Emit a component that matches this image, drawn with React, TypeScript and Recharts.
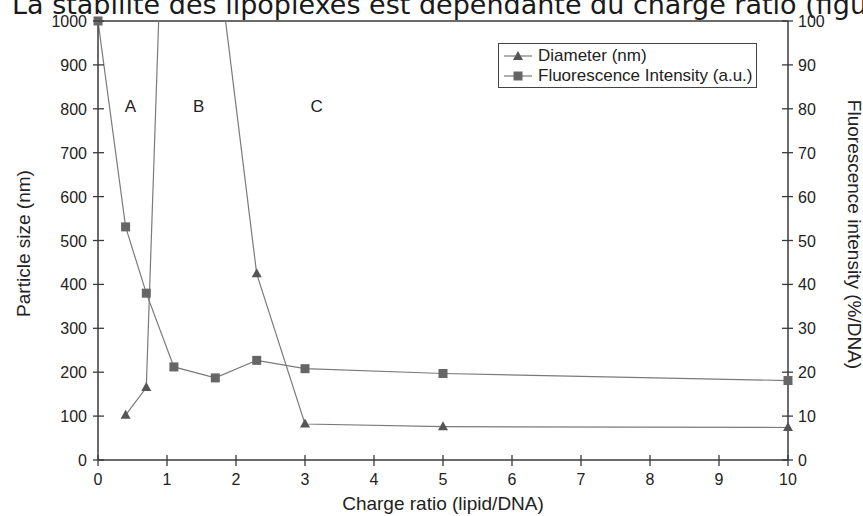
import React from "react";
import { LineChart, Line, XAxis, YAxis, ReferenceLine, ReferenceDot, Label } from "recharts";

// charge ratio (lipid/DNA)
const diameterX = [0.4, 0.7, 1.1, 1.7, 2.3, 3, 5, 10];
const diameterNm = [102, 165, 2030, 1190, 424, 82, 76, 74];
const fluoX = [0, 0.4, 0.7, 1.1, 1.7, 2.3, 3, 5, 10];
const fluoPct = [100, 53.1, 38, 21.2, 18.7, 22.7, 20.8, 19.7, 18.1];

const xTicks = [0, 1, 2, 3, 4, 5, 6, 7, 8, 9, 10];
const leftTicks = [0, 100, 200, 300, 400, 500, 600, 700, 800, 900, 1000];
const rightTicks = [0, 10, 20, 30, 40, 50, 60, 70, 80, 90, 100];

const regions = [
  { x: 0.47, y: 806, text: "A" },
  { x: 1.46, y: 806, text: "B" },
  { x: 3.17, y: 806, text: "C" },
];

const diameterData = diameterX.map((x, i) => ({ x, v: diameterNm[i] }));
const fluoData = fluoX.map((x, i) => ({ x, v: fluoPct[i] }));

const FONT = '"Liberation Sans", Arial, sans-serif';
const AXIS = "#3a3a3a";
const SERIES = "#7a7a7a";

const XTick = (p: any) => (
  <g>
    <line x1={p.x} x2={p.x} y1={p.y - 5} y2={p.y + 6} stroke={AXIS} strokeWidth={1.3} />
    <text x={p.x} y={p.y + 25} textAnchor="middle" fontSize={16} fontFamily={FONT} fill="#222">
      {p.payload.value}
    </text>
  </g>
);

const LeftTick = (p: any) => (
  <g>
    <line x1={p.x - 5} x2={p.x + 6} y1={p.y} y2={p.y} stroke={AXIS} strokeWidth={1.3} />
    <text x={p.x - 11} y={p.y + 6} textAnchor="end" fontSize={16} fontFamily={FONT} fill="#222">
      {p.payload.value}
    </text>
  </g>
);

const RightTick = (p: any) => (
  <g>
    <line x1={p.x - 6} x2={p.x + 5} y1={p.y} y2={p.y} stroke={AXIS} strokeWidth={1.3} />
    <text x={p.x + 10} y={p.y + 6} textAnchor="start" fontSize={16} fontFamily={FONT} fill="#222">
      {p.payload.value}
    </text>
  </g>
);

const Triangle = (p: any) => {
  const { cx, cy } = p;
  if (cx == null || cy == null) return <g key={p.index} />;
  return (
    <path
      key={p.index}
      d={`M${cx},${cy - 5.5} L${cx + 5},${cy + 3.5} L${cx - 5},${cy + 3.5} Z`}
      fill="#555"
    />
  );
};

const Square = (p: any) => {
  const { cx, cy } = p;
  if (cx == null || cy == null) return <g key={p.index} />;
  return <rect key={p.index} x={cx - 4.5} y={cy - 4.5} width={9} height={9} fill="#666" />;
};

const LegendIcon = ({ kind }: { kind: "tri" | "sq" }) => (
  <svg width={30} height={12} style={{ marginRight: 4 }}>
    <line x1={0} x2={28} y1={6} y2={6} stroke={SERIES} strokeWidth={1.2} />
    {kind === "tri" ? (
      <path d="M14,1 L19,10 L9,10 Z" fill="#555" />
    ) : (
      <rect x={9.5} y={1.5} width={9} height={9} fill="#666" />
    )}
  </svg>
);

export default function App() {
  return (
    <div style={{ position: "relative", width: 863, height: 516, background: "#fff", overflow: "hidden" }}>
      <style>{"body{margin:0}"}</style>
      <div
        style={{
          position: "absolute",
          left: 12,
          top: -9.4,
          fontFamily: '"DejaVu Sans", sans-serif',
          fontSize: 27,
          lineHeight: "27px",
          whiteSpace: "nowrap",
          color: "#1a1a1a",
        }}
      >
        La stabilité des lipoplexes est dépendante du charge ratio (figure
      </div>
      <div style={{ position: "absolute", left: 0, top: 0 }}>
        <LineChart width={863} height={516} margin={{ top: 21, right: 0, bottom: 0, left: 0 }}>
          <XAxis
            xAxisId="x"
            type="number"
            dataKey="x"
            domain={[0, 10]}
            ticks={xTicks}
            height={56}
            tickSize={0}
            tickMargin={0}
            tickLine={false}
            tick={XTick}
            axisLine={{ stroke: AXIS, strokeWidth: 1.5 }}
            allowDuplicatedCategory={false}
          >
            <Label
              content={(props: any) => {
                const vb = props.viewBox;
                return (
                  <text
                    x={vb.x + vb.width / 2}
                    y={vb.y + 50}
                    textAnchor="middle"
                    fontSize={19}
                    fontFamily={FONT}
                    fill="#222"
                  >
                    Charge ratio (lipid/DNA)
                  </text>
                );
              }}
            />
          </XAxis>
          <YAxis
            yAxisId="left"
            orientation="left"
            domain={[0, 1000]}
            ticks={leftTicks}
            width={98}
            allowDataOverflow
            tickSize={0}
            tickMargin={0}
            tickLine={false}
            tick={LeftTick}
            axisLine={{ stroke: AXIS, strokeWidth: 1.5 }}
          >
            <Label
              content={(props: any) => {
                const vb = props.viewBox;
                const cx = 23;
                const cy = vb.y + vb.height / 2 + 3;
                return (
                  <text
                    x={cx}
                    y={cy}
                    transform={`rotate(-90 ${cx} ${cy})`}
                    textAnchor="middle"
                    dominantBaseline="central"
                    fontSize={19}
                    fontFamily={FONT}
                    fill="#222"
                  >
                    Particle size (nm)
                  </text>
                );
              }}
            />
          </YAxis>
          <YAxis
            yAxisId="right"
            orientation="right"
            domain={[0, 100]}
            ticks={rightTicks}
            width={75}
            tickSize={0}
            tickMargin={0}
            tickLine={false}
            tick={RightTick}
            axisLine={{ stroke: AXIS, strokeWidth: 1.5 }}
          >
            <Label
              content={(props: any) => {
                const vb = props.viewBox;
                const cx = 854;
                const cy = vb.y + vb.height / 2 - 6;
                return (
                  <text
                    x={cx}
                    y={cy}
                    transform={`rotate(90 ${cx} ${cy})`}
                    textAnchor="middle"
                    dominantBaseline="central"
                    fontSize={19}
                    fontFamily={FONT}
                    fill="#222"
                  >
                    Fluorescence intensity (%/DNA)
                  </text>
                );
              }}
            />
          </YAxis>
          <ReferenceLine xAxisId="x" yAxisId="left" y={1000} stroke={AXIS} strokeWidth={1.5} />
          {regions.map((r) => (
            <ReferenceDot
              key={r.text}
              xAxisId="x"
              yAxisId="left"
              x={r.x}
              y={r.y}
              r={0}
              fill="none"
              stroke="none"
              label={{ value: r.text, position: "center", fontSize: 17, fill: "#222", fontFamily: FONT }}
            />
          ))}
          <Line
            xAxisId="x"
            yAxisId="left"
            data={diameterData}
            dataKey="v"
            type="linear"
            stroke={SERIES}
            strokeWidth={1.2}
            dot={Triangle}
            activeDot={false}
            isAnimationActive={false}
          />
          <Line
            xAxisId="x"
            yAxisId="right"
            data={fluoData}
            dataKey="v"
            type="linear"
            stroke={SERIES}
            strokeWidth={1.2}
            dot={Square}
            activeDot={false}
            isAnimationActive={false}
          />
        </LineChart>
      </div>
      <div
        style={{
          position: "absolute",
          left: 498,
          top: 43,
          width: 259,
          height: 45,
          boxSizing: "border-box",
          border: "1px solid #444",
          fontFamily: FONT,
          fontSize: 17,
          color: "#222",
          padding: "2px 0 0 5px",
          lineHeight: "20px",
        }}
      >
        <div style={{ display: "flex", alignItems: "center" }}>
          <LegendIcon kind="tri" />
          Diameter (nm)
        </div>
        <div style={{ display: "flex", alignItems: "center" }}>
          <LegendIcon kind="sq" />
          Fluorescence Intensity (a.u.)
        </div>
      </div>
    </div>
  );
}
